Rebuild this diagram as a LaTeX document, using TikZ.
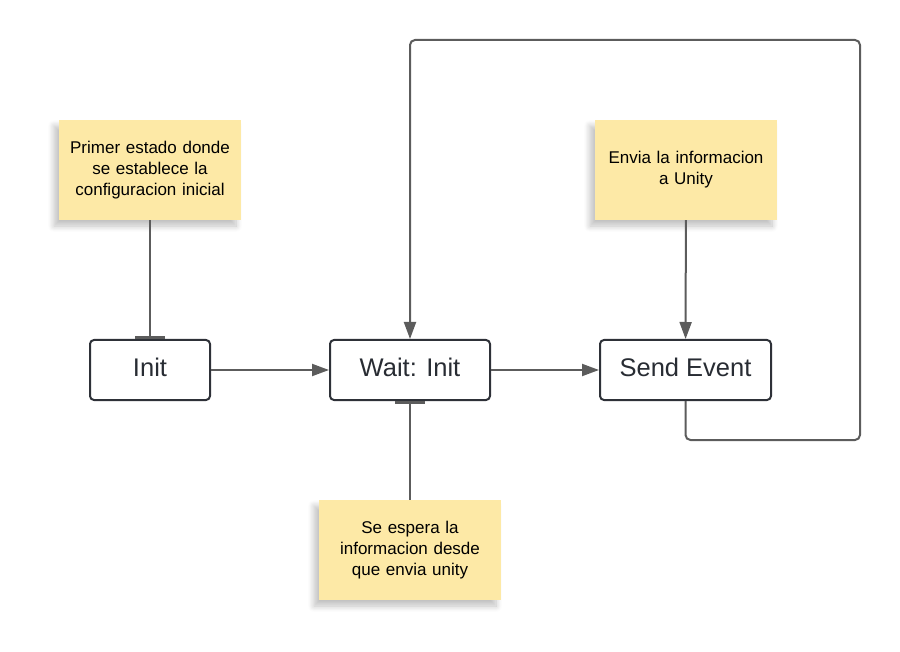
\documentclass[tikz,border=0pt]{standalone}
\usepackage{fontspec}
\setmainfont{Liberation Sans}
\usetikzlibrary{arrows.meta,shadows.blur}

\definecolor{notefill}{HTML}{FDE9A6}
\definecolor{linegray}{HTML}{5C5C5C}
\definecolor{boxline}{HTML}{2E3138}
\definecolor{textdark}{HTML}{282C33}

\tikzset{
  state/.style={draw=boxline, line width=2pt, rounded corners=4pt, fill=white,
    minimum height=60pt, text depth=6pt, text=textdark, font=\fontsize{25.5}{30}\selectfont},
  note/.style={fill=notefill, minimum width=182pt, minimum height=100pt,
    text width=175pt, align=center, inner sep=0pt,
    font=\fontsize{17}{21}\selectfont,
    blur shadow={shadow xshift=-5pt, shadow yshift=-6pt, shadow opacity=25,
      shadow blur radius=6pt, shadow blur steps=10}},
  link/.style={draw=linegray, line width=2pt, -{Triangle[length=17pt,width=12pt]}},
  tie/.style={draw=linegray, line width=2pt, -{Bar[width=30pt,line width=3pt]}}
}

\begin{document}
\begin{tikzpicture}[x=1pt,y=-1pt]
  \useasboundingbox (0,0) rectangle (900,652);

  \node[state, minimum width=120pt] (init) at (150,370) {Init};
  \node[state, minimum width=160pt] (wait) at (410,370) {Wait: Init};
  \node[state, minimum width=171pt] (send) at (685.5,370) {Send Event};

  \node[note] (noteinit) at (150,170) {Primer estado donde\\se establece la\\configuracion inicial};
  \node[note] (notesend) at (686,170) {Envia la informacion\\a Unity};
  \node[note] (notewait) at (410,550) {Se espera la\\informacion desde\\que envia unity};

  \coordinate (loopright) at (860,440);
  \coordinate (looptop) at (860,40);

  \draw[link] (init) -- (wait);
  \draw[link] (wait) -- (send);
  \draw[link] (notesend) -- (send);
  \draw[tie] (noteinit) -- (init);
  \draw[tie] (notewait) -- (wait);
  \draw[link, rounded corners=5pt] (send.south) |- (loopright) -- (looptop) -| (wait.north);
\end{tikzpicture}
\end{document}
